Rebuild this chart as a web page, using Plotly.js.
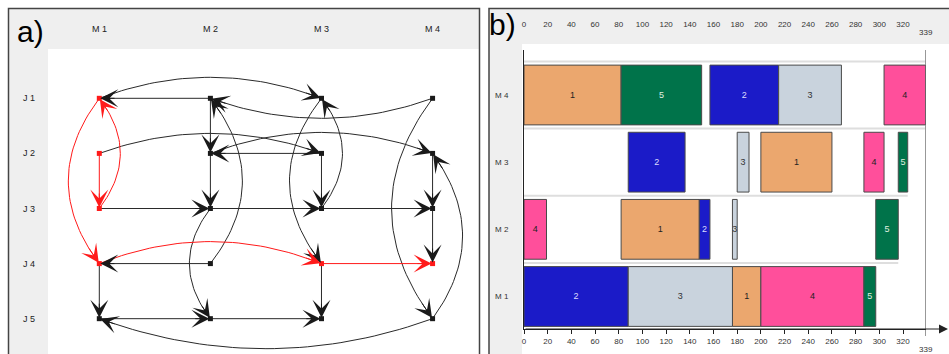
<!DOCTYPE html>
<html><head><meta charset="utf-8">
<script src="https://cdn.plot.ly/plotly-3.0.1.min.js"></script>
<style>html,body{margin:0;padding:0;background:#fff}</style>
</head><body><div id="chart" style="width:949px;height:354px"></div>
<script>
// ================= DATA =================
// a) disjunctive graph
const machines = ['M 1', 'M 2', 'M 3', 'M 4'];
const jobs = ['J 1', 'J 2', 'J 3', 'J 4', 'J 5'];
// arcs: [fromJob, fromMachine, toJob, toMachine]
const arcs = [
  [1,2,1,1],[1,2,2,2],[2,3,2,2],[2,1,3,1],[2,2,3,2],[2,3,3,3],[2,4,3,4],
  [3,1,3,2],[3,2,3,3],[3,3,3,4],[3,4,4,4],[4,2,4,1],[4,3,4,4],[4,1,5,1],
  [4,3,5,3],[5,1,5,2],[5,2,5,3],
  [1,1,1,3],[1,4,1,2],[2,1,2,3],[2,2,2,4],[3,1,1,1],[1,1,4,1],[4,2,1,2],
  [1,3,4,3],[3,3,1,3],[1,4,5,4],[5,4,2,4],[3,2,5,2],[4,1,4,3],[5,4,5,1]
];
// critical path as [job, machine]
const criticalPath = [[2,1],[3,1],[1,1],[4,1],[4,3],[4,4]];

// b) Gantt chart: start / end time of each job (rows) on each machine (cols M1..M4)
const ganttJobs = ['1', '2', '3', '4', '5'];
const opStart = [
  [176,  82, 200,   0],
  [  0, 148,  88, 157],
  [ 88, 176, 180, 215],
  [200,   0, 287, 304],
  [287, 297, 316,  82]
];
const opEnd = [
  [200, 148, 260,  82],
  [ 88, 157, 136, 215],
  [176, 180, 190, 268],
  [287,  19, 304, 339],
  [297, 316, 324, 150]
];
const makespan = 339;
const timeTicks = [0,20,40,60,80,100,120,140,160,180,200,220,240,260,280,300,320];

// ================= STYLE / LAYOUT HELPERS =================
const W = 949, H = 354;
const px = v => v / W;          // pixel x -> paper
const py = v => 1 - v / H;      // pixel y -> paper
const SX = 111.1, SY = 55.1;    // graph scale, px per unit
const bends = [
  [0,0],[0,0],[0,0],[0,0],[0,0],[0,0],[0,0],[0,0],[0,0],[0,0],[0,0],[0,0],[0,0],[0,0],[0,0],[0,0],[0,0],
  [0,-21],[0,20],[0,-20],[0,-21],[21,0],[-31,0],[32,0],[-32,0],[21,0],[-41,0],[30,0],[-21,0],[0,-22],[0,30]
];
const jobColors = ['#EBA76E', '#1B1BC8', '#C9D3DD', '#FF4F9B', '#00734A'];
const jobText = ['#222', '#dcdcff', '#333', '#222', '#e0f0e0'];
const BLACK = '#1a1a1a', RED = '#ff1a1a';
const FONT = 'Liberation Sans, Arial';

const traces = [];
const annotations = [];
const shapes = [];

// ---- graph arcs ----
function isCritical(a) {
  for (let i = 0; i < criticalPath.length - 1; i++) {
    const p = criticalPath[i], q = criticalPath[i + 1];
    if (p[0] === a[0] && p[1] === a[1] && q[0] === a[2] && q[1] === a[3]) return true;
  }
  return false;
}
const lines = {black: {x: [], y: []}, red: {x: [], y: []}};
arcs.forEach((a, k) => {
  const x0 = a[1], y0 = a[0], x2 = a[3], y2 = a[2];
  const b = bends[k];
  const cx = (x0 + x2) / 2 + 2 * b[0] / SX;
  const cy = (y0 + y2) / 2 + 2 * b[1] / SY;
  const N = 40, pts = [];
  for (let i = 0; i <= N; i++) {
    const t = i / N, u = 1 - t;
    pts.push([u*u*x0 + 2*u*t*cx + t*t*x2, u*u*y0 + 2*u*t*cy + t*t*y2]);
  }
  const crit = isCritical(a);
  const L = crit ? lines.red : lines.black;
  pts.forEach(p => { L.x.push(p[0]); L.y.push(p[1]); });
  L.x.push(null); L.y.push(null);
  // arrow tail ~16px back along the curve
  let dist = 0, j = N;
  while (j > 0 && dist < 16) {
    const dx = (pts[j][0] - pts[j-1][0]) * SX, dy = (pts[j][1] - pts[j-1][1]) * SY;
    dist += Math.hypot(dx, dy); j--;
  }
  annotations.push({
    x: x2, y: y2, xref: 'x', yref: 'y', ax: pts[j][0], ay: pts[j][1], axref: 'x', ayref: 'y',
    showarrow: true, arrowhead: 3, arrowsize: 3, arrowwidth: 1, standoff: 1,
    arrowcolor: crit ? RED : BLACK, text: ''
  });
});
traces.push({type: 'scatter', mode: 'lines', x: lines.black.x, y: lines.black.y, xaxis: 'x', yaxis: 'y',
  line: {color: '#2a2a2a', width: 1}, hoverinfo: 'skip', showlegend: false});
traces.push({type: 'scatter', mode: 'lines', x: lines.red.x, y: lines.red.y, xaxis: 'x', yaxis: 'y',
  line: {color: RED, width: 1}, hoverinfo: 'skip', showlegend: false});

// ---- graph nodes ----
const nx = [], ny = [], nc = [];
jobs.forEach((jn, ji) => machines.forEach((mn, mi) => {
  nx.push(mi + 1); ny.push(ji + 1);
  const crit = criticalPath.some(p => p[0] === ji + 1 && p[1] === mi + 1);
  nc.push(crit ? RED : BLACK);
}));
traces.push({type: 'scatter', mode: 'markers', x: nx, y: ny, xaxis: 'x', yaxis: 'y',
  marker: {symbol: 'square', size: 5, color: nc}, hoverinfo: 'skip', showlegend: false});

// graph labels
machines.forEach((m, i) => annotations.push({x: i + 1, y: py(29), xref: 'x', yref: 'paper', text: m,
  xanchor: 'center', yanchor: 'middle', showarrow: false, font: {family: FONT, size: 9, color: '#222'}}));
jobs.forEach((j, i) => annotations.push({x: px(29), y: i + 1, xref: 'paper', yref: 'y', text: j,
  xanchor: 'center', yanchor: 'middle', showarrow: false, font: {family: FONT, size: 9, color: '#222'}}));

// ---- Gantt bars ----
ganttJobs.forEach((jn, ji) => {
  traces.push({
    type: 'bar', orientation: 'h', xaxis: 'x2', yaxis: 'y2',
    y: machines.map((m, mi) => mi),
    base: opStart[ji],
    x: opEnd[ji].map((e, mi) => e - opStart[ji][mi]),
    width: 0.89,
    marker: {color: jobColors[ji], line: {color: '#4a4a4a', width: 1}},
    text: machines.map(() => jn), textposition: 'inside', insidetextanchor: 'middle',
    textangle: 0, constraintext: 'none',
    insidetextfont: {family: FONT, size: 9, color: jobText[ji]},
    hoverinfo: 'skip', showlegend: false
  });
});

// row separators (span each machine's last completion)
machines.forEach((m, mi) => {
  const rowMax = Math.max(...opEnd.map(r => r[mi]));
  if (mi > 0) shapes.push({type: 'line', xref: 'x2', yref: 'y2', x0: 0, x1: rowMax, y0: mi - 0.5, y1: mi - 0.5,
    line: {color: '#dedede', width: 2}, layer: 'below'});
  if (mi === machines.length - 1) shapes.push({type: 'line', xref: 'x2', yref: 'y2', x0: 0, x1: rowMax,
    y0: mi + 0.5, y1: mi + 0.5, line: {color: '#dedede', width: 2}, layer: 'below'});
});
// makespan line
shapes.push({type: 'line', xref: 'x2', yref: 'paper', x0: makespan, x1: makespan, y0: py(336), y1: py(50),
  line: {color: '#333', width: 1}});

// ---- panel frames ----
const gray = '#efefef';
shapes.push({type: 'rect', xref: 'paper', yref: 'paper', x0: px(9), x1: px(479), y0: py(49), y1: py(9), fillcolor: gray, line: {width: 0}, layer: 'below'});
shapes.push({type: 'rect', xref: 'paper', yref: 'paper', x0: px(9), x1: px(48), y0: py(360), y1: py(49), fillcolor: gray, line: {width: 0}, layer: 'below'});
shapes.push({type: 'rect', xref: 'paper', yref: 'paper', x0: px(8.5), x1: px(479.5), y0: py(362), y1: py(8.5), line: {color: '#444', width: 1.5}});
shapes.push({type: 'rect', xref: 'paper', yref: 'paper', x0: px(489), x1: px(955), y0: py(44), y1: py(9), fillcolor: gray, line: {width: 0}, layer: 'below'});
shapes.push({type: 'rect', xref: 'paper', yref: 'paper', x0: px(489), x1: px(522), y0: py(360), y1: py(44), fillcolor: gray, line: {width: 0}, layer: 'below'});
shapes.push({type: 'rect', xref: 'paper', yref: 'paper', x0: px(489), x1: px(960), y0: py(362), y1: py(8.5), line: {color: '#444', width: 1.5}});

// panel letters
annotations.push({x: px(31), y: py(31), xref: 'paper', yref: 'paper', text: 'a)', showarrow: false,
  xanchor: 'center', yanchor: 'middle', font: {family: FONT, size: 30, color: '#000'}});
annotations.push({x: px(503), y: py(25), xref: 'paper', yref: 'paper', text: 'b)', showarrow: false,
  xanchor: 'center', yanchor: 'middle', font: {family: FONT, size: 30, color: '#000'}});

// makespan labels
annotations.push({x: makespan, y: py(349), xref: 'x2', yref: 'paper', text: String(makespan), showarrow: false,
  xanchor: 'center', yanchor: 'middle', font: {family: FONT, size: 8, color: '#333'}});
annotations.push({x: makespan, y: py(32), xref: 'x2', yref: 'paper', text: String(makespan), showarrow: false,
  xanchor: 'center', yanchor: 'middle', font: {family: FONT, size: 8, color: '#333'}});
// time-axis arrow
annotations.push({x: px(948), y: py(329), xref: 'paper', yref: 'paper', ax: -(948 - 524), ay: 0,
  axref: 'pixel', ayref: 'pixel', showarrow: true, arrowhead: 2, arrowsize: 1.8, arrowwidth: 1,
  arrowcolor: '#222', text: ''});

const tickFont = {family: FONT, size: 8, color: '#333'};
const layout = {
  width: W, height: H, margin: {l: 0, r: 0, t: 0, b: 0},
  paper_bgcolor: '#fff', plot_bgcolor: 'rgba(0,0,0,0)', showlegend: false,
  barmode: 'overlay',
  uniformtext: {mode: 'show', minsize: 9},
  xaxis: {domain: [px(9), px(479)], range: [0.187, 4.418], visible: false, fixedrange: true},
  yaxis: {domain: [0, py(9)], range: [5.641, -0.621], visible: false, fixedrange: true},
  xaxis2: {domain: [px(524), px(925.5)], range: [0, makespan], anchor: 'y2',
    showline: true, linecolor: '#222', linewidth: 1, showgrid: false, zeroline: false,
    ticks: 'outside', ticklen: 4, tickcolor: '#222', tickvals: timeTicks, tickfont: tickFont},
  xaxis3: {overlaying: 'x2', anchor: 'free', position: py(29), side: 'top', range: [0, makespan],
    showline: false, showgrid: false, zeroline: false, ticks: '', tickvals: timeTicks, tickfont: tickFont},
  yaxis2: {domain: [py(329), py(50)], range: [-0.484, 3.67], anchor: 'x2',
    showline: true, linecolor: '#222', linewidth: 1, showgrid: false, zeroline: false,
    tickvals: machines.map((m, i) => i), ticktext: machines, ticks: 'outside', ticklen: 13,
    tickcolor: 'rgba(0,0,0,0)', tickfont: tickFont},
  shapes: shapes, annotations: annotations
};
// invisible trace so the top time axis renders
traces.push({type: 'scatter', x: [0], y: [0], xaxis: 'x3', yaxis: 'y2', mode: 'markers',
  marker: {opacity: 0}, hoverinfo: 'skip', showlegend: false});

Plotly.newPlot('chart', traces, layout, {displayModeBar: false, staticPlot: true});
</script></body></html>
